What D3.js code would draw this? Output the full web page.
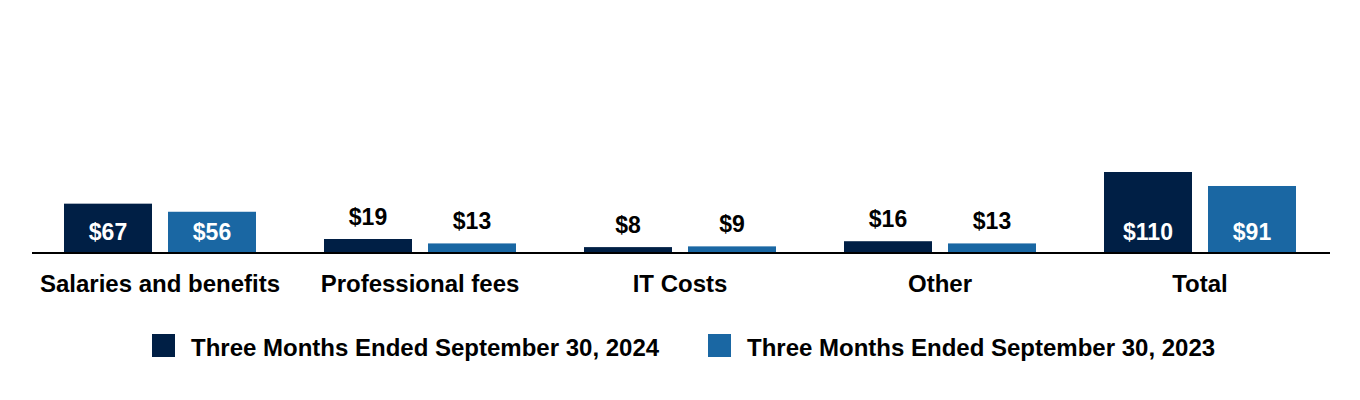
<!DOCTYPE html>
<html>
<head>
<meta charset="utf-8">
<script src="https://cdn.jsdelivr.net/npm/d3@7"></script>
<style>
  body { margin: 0; background: #fff; }
  text { font-family: "Liberation Sans", Arial, sans-serif; font-weight: bold; }
</style>
</head>
<body>
<svg width="1360" height="400"></svg>
<script>
var categories = ['Salaries and benefits', 'Professional fees', 'IT Costs', 'Other', 'Total'];
var series = ['Three Months Ended September 30, 2024', 'Three Months Ended September 30, 2023'];
var values2024 = [67, 19, 8, 16, 110];
var values2023 = [56, 13, 9, 13, 91];
var colors = ['#001f45', '#1a67a3'];

var svg = d3.select('svg');
var baseY = 253;

var x = d3.scaleBand()
    .domain(categories)
    .range([30, 1330]);

// two bars of 88px with a 16px gap, centred in each band
var xs = d3.scaleBand()
    .domain(series)
    .range([x.bandwidth() / 2 - 96, x.bandwidth() / 2 + 96])
    .paddingInner(16 / 104);

var y = d3.scaleLinear()
    .domain([0, 110])
    .range([baseY, baseY - 81]);

var rows = categories.map(function(c, i) {
    return { cat: c, vals: [values2024[i], values2023[i]] };
});

var groups = svg.selectAll('g.cat')
    .data(rows)
    .enter().append('g')
    .attr('class', 'cat')
    .attr('transform', function(d) { return 'translate(' + x(d.cat) + ',0)'; });

groups.selectAll('rect')
    .data(function(d) { return d.vals.map(function(v, j) { return { s: series[j], v: v, j: j }; }); })
    .enter().append('rect')
    .attr('x', function(d) { return xs(d.s); })
    .attr('width', xs.bandwidth())
    .attr('y', function(d) { return y(d.v); })
    .attr('height', function(d) { return baseY - y(d.v); })
    .attr('fill', function(d) { return colors[d.j]; });

// value labels: inside the bar if there's room, otherwise above it
groups.selectAll('text.val')
    .data(function(d) { return d.vals.map(function(v, j) { return { s: series[j], v: v }; }); })
    .enter().append('text')
    .attr('class', 'val')
    .attr('x', function(d) { return xs(d.s) + xs.bandwidth() / 2; })
    .attr('y', function(d) {
        var h = baseY - y(d.v);
        return h > 30 ? baseY - 13 : y(d.v) - 14;
    })
    .attr('text-anchor', 'middle')
    .attr('font-size', '23px')
    .attr('fill', function(d) { return (baseY - y(d.v)) > 30 ? '#fff' : '#000'; })
    .text(function(d) { return '$' + d.v; });

// axis line
svg.append('line')
    .attr('x1', 32).attr('x2', 1330)
    .attr('y1', baseY).attr('y2', baseY)
    .style('stroke', '#000')
    .style('stroke-width', '2px');

// category labels
var xAxis = d3.axisBottom(x).tickSize(0).tickPadding(0);
var ax = svg.append('g')
    .attr('transform', 'translate(0,' + baseY + ')')
    .call(xAxis);
ax.select('.domain').remove();
ax.selectAll('text')
    .attr('dy', 0)
    .attr('y', 39)
    .attr('font-size', '24px')
    .attr('font-family', '"Liberation Sans", Arial, sans-serif')
    .attr('fill', '#000');

// legend
var legendX = [152, 708];
var legend = svg.selectAll('g.legend')
    .data(series)
    .enter().append('g')
    .attr('class', 'legend')
    .attr('transform', function(d, i) { return 'translate(' + legendX[i] + ',334)'; });

legend.append('rect')
    .attr('width', 23).attr('height', 23)
    .attr('fill', function(d, i) { return colors[i]; });

legend.append('text')
    .attr('x', 39)
    .attr('y', 22)
    .attr('font-size', '24px')
    .attr('fill', '#000')
    .text(function(d) { return d; });
</script>
</body>
</html>
